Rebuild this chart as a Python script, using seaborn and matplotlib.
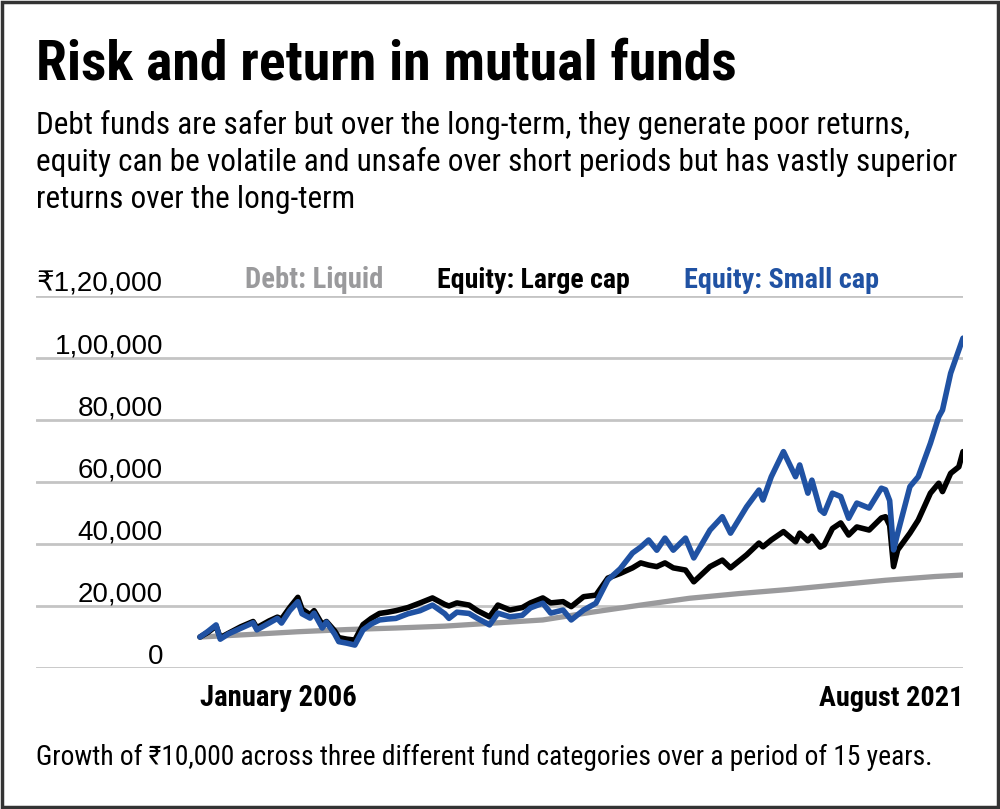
import pandas as pd
import seaborn as sns
import matplotlib.pyplot as plt
import matplotlib.dates as mdates
from matplotlib import font_manager
from matplotlib.patches import Rectangle

# values (growth of Rs 10,000)
equity_dates = ["2006-01", "2006-03", "2006-05", "2006-06", "2006-08", "2006-11",
                "2007-02", "2007-03", "2007-06", "2007-08", "2007-09", "2007-11",
                "2008-01", "2008-02", "2008-04", "2008-05", "2008-07", "2008-08",
                "2008-10", "2008-11", "2009-01", "2009-03", "2009-05", "2009-07",
                "2009-09", "2009-11", "2010-01", "2010-04", "2010-07", "2010-10",
                "2011-01", "2011-02", "2011-04", "2011-07", "2011-09", "2011-12",
                "2012-02", "2012-05", "2012-08", "2012-10", "2013-01", "2013-03",
                "2013-06", "2013-08", "2013-11", "2014-02", "2014-05", "2014-08",
                "2014-11", "2015-01", "2015-03", "2015-05", "2015-07", "2015-09",
                "2015-12", "2016-02", "2016-06", "2016-09", "2016-11", "2017-03",
                "2017-06", "2017-07", "2017-09", "2017-12", "2018-03", "2018-04",
                "2018-06", "2018-07", "2018-09", "2018-10", "2018-12", "2019-02",
                "2019-04", "2019-06", "2019-09", "2019-12", "2020-01", "2020-02",
                "2020-03", "2020-04", "2020-07", "2020-09", "2020-12", "2021-02",
                "2021-03", "2021-05", "2021-07", "2021-08"]

small_cap = [10000, 11800, 13900, 9300, 11000, 12800,
             14600, 12300, 14500, 16000, 14500, 18500,
             21400, 17500, 16100, 17700, 12900, 14800,
             11000, 8500, 8000, 7400, 12300, 14200,
             15500, 15800, 16000, 17500, 18500, 20300,
             17500, 16000, 18000, 17600, 16000, 13900,
             17700, 16500, 17000, 19400, 20900, 17700,
             18700, 15500, 18700, 20900, 28400, 32000,
             37100, 39000, 41300, 38000, 41900, 38000,
             41900, 35500, 44500, 48800, 43500, 52000,
             57400, 54200, 61700, 69800, 61700, 65500,
             56400, 60600, 51000, 49900, 56400, 55300,
             48300, 53200, 51600, 58000, 57500, 54000,
             38100, 43500, 58500, 61700, 72500, 81000,
             83200, 95100, 102600, 106400]

large_cap = [10000, 11500, 13500, 9800, 11200, 13300,
             15000, 13000, 15200, 16400, 15800, 19500,
             22800, 19000, 17200, 18500, 14000, 15000,
             12000, 9800, 9300, 9000, 14000, 16000,
             17600, 18000, 18500, 19500, 21000, 22600,
             20500, 20000, 21000, 20300, 18500, 16500,
             20300, 18700, 19500, 21000, 22600, 21000,
             21400, 19800, 23000, 23500, 29000, 30500,
             32300, 33900, 33200, 32700, 33900, 32300,
             31600, 27800, 32700, 34800, 32300, 36500,
             40300, 39100, 41300, 44000, 40700, 43500,
             41000, 42500, 39000, 39700, 45000, 46800,
             42900, 45500, 44500, 48400, 48800, 46000,
             32700, 38100, 43500, 47700, 56400, 59600,
             56900, 62800, 64900, 69800]

debt_dates = ["2006-01", "2007-01", "2008-01", "2009-01", "2010-01", "2011-01",
              "2012-01", "2013-01", "2014-01", "2015-01", "2016-01", "2017-01",
              "2018-01", "2019-01", "2020-01", "2021-01", "2021-08"]
debt_liquid = [10000, 10800, 11700, 12400, 12900, 13500,
               14500, 15500, 18000, 20300, 22500, 24000,
               25300, 26800, 28300, 29500, 30000]

y_ticks = [0, 20000, 40000, 60000, 80000, 100000, 120000]
y_labels = ["0", "20,000", "40,000", "60,000", "80,000", "1,00,000", "₹1,20,000"]

series_names = ["Debt: Liquid", "Equity: Large cap", "Equity: Small cap"]
series_colors = ["#9a9a9c", "#000000", "#2052a3"]

eq = pd.DataFrame({"date": pd.to_datetime(equity_dates),
                   "small": small_cap, "large": large_cap})
debt = pd.DataFrame({"date": pd.to_datetime(debt_dates), "value": debt_liquid})

sns.set_theme(style="white")
installed = {f.name for f in font_manager.fontManager.ttflist}
cond = next((n for n in ["Liberation Sans Narrow", "Roboto Condensed", "Open Sans Condensed",
                         "DejaVu Sans Condensed"] if n in installed), "Roboto")
narrow = [cond, "DejaVu Sans"]
plt.rcParams["font.family"] = ["Liberation Sans", "DejaVu Sans"]
plt.rcParams["text.color"] = "black"

fig = plt.figure(figsize=(10, 8.09), dpi=100)
ax = fig.add_axes([0.036, (809 - 668) / 809, 0.927, 372 / 809])

sns.lineplot(data=debt, x="date", y="value", color=series_colors[0], linewidth=3.8, ax=ax)
sns.lineplot(data=eq, x="date", y="large", color=series_colors[1], linewidth=4, ax=ax)
sns.lineplot(data=eq, x="date", y="small", color=series_colors[2], linewidth=4, ax=ax)

# start date sits at pixel 200, end at 963 -> extend the left limit
x0 = mdates.date2num(eq["date"].iloc[0])
x1 = mdates.date2num(eq["date"].iloc[-1])
ax.set_xlim(x0 - (x1 - x0) * (200 - 36) / (963 - 200), x1)
ax.set_ylim(0, 120000)

ax.set_yticks(y_ticks)
ax.set_yticklabels([])
ax.set_xticks([])
ax.tick_params(length=0)
ax.yaxis.grid(True, color="#c4c4c4", linewidth=2)
ax.set_axisbelow(True)
for s in ax.spines.values():
    s.set_visible(False)
ax.set_xlabel("")
ax.set_ylabel("")

for v, lab in zip(y_ticks, y_labels):
    ax.text((163 - 36) / 927, v + 1300, lab, transform=ax.get_yaxis_transform(),
            ha="right", va="baseline", fontsize=20, color="black")

renderer = fig.canvas.get_renderer()


def fit(t, width_px, max_size):
    # shrink a text so it spans the same width as in the reference
    w = t.get_window_extent(renderer).width
    t.set_fontsize(min(max_size, t.get_fontsize() * width_px / w))


# legend as coloured labels
for cx, w, name, c in zip([314, 533, 782], [138, 193, 195], series_names, series_colors):
    t = fig.text(cx / 1000, (809 - 280) / 809, name, ha="center", va="center",
                 fontsize=19, color=c, family=narrow, fontweight="bold")
    fit(t, w, 21)

t = ax.text(eq["date"].iloc[0], -0.081, "January 2006", transform=ax.get_xaxis_transform(),
            ha="left", va="center", fontsize=19, family=narrow, fontweight="bold")
fit(t, 157, 21)
t = ax.text(eq["date"].iloc[-1], -0.081, "August 2021", transform=ax.get_xaxis_transform(),
            ha="right", va="center", fontsize=19, family=narrow, fontweight="bold")
fit(t, 144, 21)

t = fig.text(0.036, (809 - 80) / 809, "Risk and return in mutual funds", ha="left",
             va="baseline", fontsize=40, fontweight="bold", family=narrow)
fit(t, 700, 44)
subtitle = ["Debt funds are safer but over the long-term, they generate poor returns,",
            "equity can be volatile and unsafe over short periods but has vastly superior",
            "returns over the long-term"]
sub = [fig.text(0.036, (809 - 125 - 37 * i) / 809, line, ha="left", va="center",
                fontsize=20, family=narrow) for i, line in enumerate(subtitle)]
fit(sub[1], 919, 24)
for t in sub:
    t.set_fontsize(sub[1].get_fontsize())

t = fig.text(0.036, (809 - 757) / 809,
             "Growth of ₹10,000 across three different fund categories over a period of 15 years.",
             ha="left", va="center", fontsize=18, family=narrow)
fit(t, 897, 22)

fig.patches.append(Rectangle((0.002, 0.002), 0.996, 0.996, transform=fig.transFigure,
                             fill=False, edgecolor="#333333", linewidth=2.5))

fig.savefig("out.png", dpi=100)
